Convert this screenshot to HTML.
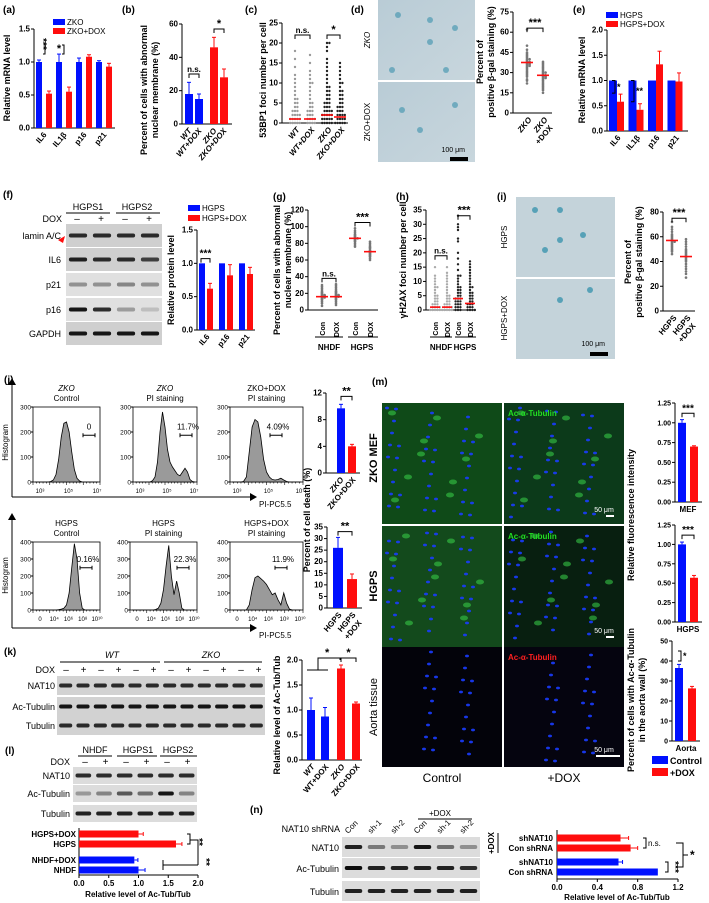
<!DOCTYPE html>
<html><head><meta charset="utf-8"><style>
html,body{margin:0;padding:0;background:#fff;width:709px;height:903px;overflow:hidden}
svg{display:block;font-family:"Liberation Sans",Arial,sans-serif}
</style></head><body>
<svg id="fig" width="709" height="903" viewBox="0 0 709 903" xmlns="http://www.w3.org/2000/svg">
<defs>
<linearGradient id="gbg" x1="0" y1="0" x2="1" y2="1"><stop offset="0" stop-color="#b9ccd6"/><stop offset="1" stop-color="#c8d6dd"/></linearGradient>
</defs>
<g id="static" font-size="9"></g>
</svg>
<script>
// ---------- DATA ----------
const aCats=['IL6','IL1β','p16','p21'];
const aCtrl=[1,1,1,1];
const aDox=[0.52,0.55,1.08,0.93];
const aCtrlErr=[0.03,0.12,0.06,0.02];
const aDoxErr=[0.04,0.07,0.03,0.05];
const bCats=['WT','WT+DOX','ZKO','ZKO+DOX'];
const bVals=[18,15,46,28];
const bErr=[7,3,6,5];
const cCats=['WT','WT+DOX','ZKO','ZKO+DOX'];
const cWT=[0,0,0,0,0,1,1,1,1,1,2,2,2,2,3,3,3,4,4,5,5,6,6,7,8,9,10,11,12,14,16,18];
const cWTDox=[0,0,0,0,1,1,1,1,2,2,2,3,3,3,4,4,5,5,6,7,8,9,10,10,11,12,13,15,17];
const cZKO=[0,0,0,0,0,1,1,1,1,1,2,2,2,2,2,3,3,3,3,4,4,4,5,5,5,6,6,7,7,8,8,9,9,10,11,12,13,14,15,16,18,19,20,20];
const cZKODox=[0,0,0,0,0,1,1,1,1,2,2,2,2,3,3,3,4,4,4,5,5,6,6,7,7,8,8,9,10,10,11,12,13,14,15];
const cMeans=[1,1,2,1.5];
const dCats=['ZKO','ZKO+DOX'];
const dZKO=[62,50,47,45,44,43,42,41,40,40,39,38,38,37,37,36,36,35,35,34,33,32,31,30,29,28,27,25,24,22];
const dZKODox=[38,37,36,35,34,33,32,31,30,30,29,28,28,27,27,26,26,25,24,23,22,21,20,19,18,17,15];
const dMeans=[37.5,28];
const eCats=['IL6','IL1β','p16','p21'];
const eCtrl=[1,1,1,1];
const eDox=[0.58,0.42,1.32,0.98];
const eDoxErr=[0.15,0.12,0.26,0.17];
const fCats=['IL6','p16','p21'];
const fCtrl=[1,1,1];
const fDox=[0.62,0.82,0.84];
const fDoxErr=[0.08,0.16,0.1];
const gCon1=[5,8,10,12,13,14,15,15,16,16,17,17,18,18,19,20,21,22,24,26,28,30];
const gDox1=[6,8,10,12,13,14,15,16,16,17,17,18,18,19,20,21,22,23,25,27,29,31];
const gCon2=[98,95,93,91,90,89,88,87,86,86,85,84,83,82,80,78,76];
const gDox2=[82,80,78,76,75,74,72,71,70,69,68,67,66,65,64,62,60];
const gMeans=[16,16,86,70];
const hCols=[
 [0,0,0,0,0,1,1,1,1,2,2,2,3,3,4,4,5,5,6,7,8,8,9,10,11,12,15],
 [0,0,0,0,0,1,1,1,1,2,2,2,3,3,4,4,5,5,6,7,8,9,10,11,12,13,15],
 [0,0,0,1,1,1,2,2,2,3,3,3,4,4,4,5,5,6,6,7,7,8,8,9,10,11,12,12,14,16,18,20,24,25,28,29,30,33],
 [0,0,0,0,1,1,1,2,2,2,3,3,4,4,5,5,6,6,7,8,8,9,10,11,12,13,14,15,16,17]];
const hMeans=[1,1,4,2.3];
const iHGPS=[72,68,66,64,62,61,60,59,58,57,56,56,55,54,53,52,51,50,49,48,46];
const iHGPSDox=[58,56,54,52,50,49,48,47,46,45,44,43,42,41,40,38,36,34,32,30,27];
const iMeans=[57,44];
const jTopVals=[9.7,4.0];
const jTopErr=[0.6,0.3];
const jBotVals=[26,12.5];
const jBotErr=[4.5,2.2];
const histZKOctrl=[0,0,0,0,0,0,2,8,30,90,180,235,240,200,120,50,15,4,0,0,0,0,0,0,0];
const histZKOpi=[0,0,0,0,0,0,0,5,20,80,200,280,220,130,80,60,45,30,25,40,55,40,10,2,0];
const histZKOdox=[0,0,0,0,2,20,120,220,250,240,180,90,40,20,10,8,10,15,8,2,0,0,0,0,0];
const histHctrl=[0,0,0,0,0,0,0,0,0,2,5,10,30,100,250,390,300,100,10,0,0,0,0,0,0];
const histHpi=[0,0,0,0,0,0,0,0,0,3,10,40,120,260,380,200,90,170,100,10,0,0,0,0,0];
const histHdox=[0,0,0,0,0,0,30,120,190,200,185,170,150,120,90,100,60,30,100,40,5,0,0,0,0];
const kCats=['WT','WT+DOX','ZKO','ZKO+DOX'];
const kVals=[1.0,0.87,1.83,1.13];
const kErr=[0.24,0.18,0.07,0.03];
const lCats=['HGPS+DOX','HGPS','NHDF+DOX','NHDF'];
const lVals=[1.0,1.63,0.93,1.0];
const lErr=[0.08,0.1,0.06,0.11];
const mMEF=[1.0,0.7];
const mMEFErr=[0.04,0.01];
const mHGPS=[1.0,0.57];
const mHGPSErr=[0.03,0.03];
const mAorta=[36.5,26.3];
const mAortaErr=[1.8,1.0];
const nCats=['shNAT10','Con shRNA','shNAT10','Con shRNA'];
const nVals=[0.63,0.73,0.61,1.0];
const nErr=[0.08,0.07,0.04,0];

// ---------- HELPERS ----------
const NS='http://www.w3.org/2000/svg';
const svg=document.getElementById('fig');
const BLUE='#0010ff', RED='#ff0d0d';
function el(tag,a,p){const e=document.createElementNS(NS,tag);for(const k in a)e.setAttribute(k,a[k]);(p||svg).appendChild(e);return e;}
function tx(x,y,s,a,p){const t=el('text',Object.assign({x:x,y:y,'font-size':8},a||{}),p);t.textContent=s;return t;}
function lin(vmin,vmax,p0,p1){return v=>p0+(v-vmin)/(vmax-vmin)*(p1-p0);}
function yAxis(g,x,yb,yt,vmax,ticks,fmt,fs){
  const ys=lin(0,vmax,yb,yt);
  el('line',{x1:x,y1:yb,x2:x,y2:yt,stroke:'#000','stroke-width':1},g);
  ticks.forEach(t=>{const y=ys(t);el('line',{x1:x-3,y1:y,x2:x,y2:y,stroke:'#000'},g);
    tx(x-4,y+2.5,fmt?fmt(t):String(t),{'text-anchor':'end','font-size':fs||8,'font-weight':'bold'},g);});
  return ys;
}
function xLine(g,x0,x1,y){el('line',{x1:x0,y1:y,x2:x1,y2:y,stroke:'#000'},g);}
function rotLabel(g,x,y,s,fs,ital){const t=tx(x,y,s,{'text-anchor':'end','font-size':fs||8,'font-weight':'bold',transform:`rotate(-50 ${x} ${y})`,'font-style':ital?'italic':'normal'},g);return t;}
function vTitle(g,x,y,s,fs){return tx(x,y,s,{'text-anchor':'middle','font-size':fs||9,'font-weight':'bold',transform:`rotate(-90 ${x} ${y})`},g);}
function errV(g,x,y0,y1,c){el('line',{x1:x,y1:y0,x2:x,y2:y1,stroke:c,'stroke-width':1},g);el('line',{x1:x-2,y1:y1,x2:x+2,y2:y1,stroke:c},g);}
function bracket(g,x0,x1,y,lab,fs){el('path',{d:`M${x0} ${y+4}V${y}H${x1}V${y+4}`,fill:'none',stroke:'#000'},g);tx((x0+x1)/2,y-2,lab,{'text-anchor':'middle','font-size':fs||10,'font-weight':'bold'},g);}
function vBracket(g,x,y0,y1,lab){el('path',{d:`M${x-3} ${y0}H${x}V${y1}H${x-3}`,fill:'none',stroke:'#000'},g);tx(x+2,(y0+y1)/2+3,lab,{'font-size':9,'font-weight':'bold'},g);}
function scatterCol(g,cx,vals,ys,col,r,spread){
  const seen={};
  vals.forEach((v,i)=>{const n=(seen[v]=(seen[v]||0)+1)-1;
    let off=(n%2?1:-1)*Math.ceil(n/2)*(r*2);off=Math.max(-spread,Math.min(spread,off));
    const c=el('circle',{cx:cx+off,cy:ys(v),r:r,fill:col},g);
    
    });
}
function meanMark(g,cx,v,ys,w){el('line',{x1:cx-w,y1:ys(v),x2:cx+w,y2:ys(v),stroke:RED,'stroke-width':1.6},g);}
function panelLabel(x,y,s){const t=tx(x,y,s,{'font-size':10,'font-weight':'bold'});}
function grp(name){const g=el('g',{});return g;}
function bar(g,x,w,ys,v,c,err){const r=el('rect',{x:x,y:ys(v),width:w,height:ys(0)-ys(v),fill:c},g);
  
  
  if(err)errV(g,x+w/2,ys(v),ys(v+err),c);return r;}
function legend(g,x,y,c,s,fs){el('rect',{x:x,y:y-6,width:12,height:6,fill:c},g);tx(x+14,y,s,{'font-size':fs||8},g);}

// ---------- (a) ----------
panelLabel(3,13,'(a)');
(function(){const g=grp('panel-a-chart');
 const ys=yAxis(g,34,128,29,1.5,[0,0.5,1,1.5],t=>t.toFixed(1));
 xLine(g,34,115,128);
 aCats.forEach((c,i)=>{bar(g,36+20*i,6,ys,aCtrl[i],BLUE,aCtrlErr[i]);bar(g,46+20*i,6,ys,aDox[i],RED,aDoxErr[i]);
   rotLabel(g,47+20*i,135,c,8);});
 vTitle(g,10,78,'Relative mRNA level',9);
 legend(g,53,25,BLUE,'ZKO',8);legend(g,53,34,RED,'ZKO+DOX',8);
 el('path',{d:'M43 43H45V54H43',fill:'none',stroke:'#000'},g);
 tx(40,44,'***',{'font-size':10,'font-weight':'bold',transform:'rotate(90 40 44)','text-anchor':'middle'},g);
 el('path',{d:'M62 45H64V54H62',fill:'none',stroke:'#000'},g);
 tx(59,52,'*',{'font-size':11,'font-weight':'bold','text-anchor':'middle'},g);
})();
// ---------- (b) ----------
panelLabel(122,13,'(b)');
(function(){const g=grp('panel-b-chart');
 const ys=yAxis(g,182,124,24,60,[0,20,40,60]);
 xLine(g,182,232,124);
 const xs=[185,195,210,220],cols=[BLUE,BLUE,RED,RED];
 bCats.forEach((c,i)=>{bar(g,xs[i],8,ys,bVals[i],cols[i],bErr[i]);rotLabel(g,xs[i]+7,131,c,8,true);});
 vTitle(g,147,90,'Percent of cells with abnormal',9);vTitle(g,158,90,'nuclear membrane (%)',9);
 bracket(g,189,199,ys(30),'n.s.',8);bracket(g,214,224,ys(57),'*',11);
})();
// ---------- (c) ----------
panelLabel(245,13,'(c)');
(function(){const g=grp('panel-c-chart');
 const ys=yAxis(g,282,123,23,25,[0,5,10,15,20,25]);
 xLine(g,282,348,123);
 const xs=[295,310,327,340],cols=['#9a9a9a','#9a9a9a','#222','#222'];
 [cWT,cWTDox,cZKO,cZKODox].forEach((d,i)=>{scatterCol(g,xs[i],d,ys,cols[i],1.2,6);meanMark(g,xs[i],cMeans[i],ys,6);rotLabel(g,xs[i]+5,130,cCats[i],8,true);});
 vTitle(g,266,80,'53BP1 foci number per cell',9);
 bracket(g,295,310,ys(22),'n.s.',8);bracket(g,327,340,ys(22),'*',11);
})();
// ---------- (d) ----------
panelLabel(351,13,'(d)');
(function(){const g=grp('panel-d-images');
 const a=el('rect',{x:378,y:0,width:97,height:80,fill:'url(#gbg)'},g);
 const b=el('rect',{x:378,y:82,width:97,height:80,fill:'url(#gbg)'},g);
 [[398,15],[430,20],[430,42],[455,28],[392,70],[446,70],[402,110],[455,105],[420,130]].forEach(p=>el('circle',{cx:p[0],cy:p[1],r:3,fill:'#4d9ab2',opacity:0.7},g));
 tx(370,40,'ZKO',{'font-size':8,'font-style':'italic',transform:'rotate(-90 370 40)','text-anchor':'middle'},g);
 tx(370,122,'ZKO+DOX',{'font-size':8,transform:'rotate(-90 370 122)','text-anchor':'middle'},g);
 tx(465,152,'100 μm',{'font-size':7,'text-anchor':'end'},g);el('rect',{x:450,y:157,width:18,height:4,fill:'#000'},g);
 const h=grp('panel-d-chart');
 const ys=yAxis(h,513,113,12,75,[0,15,30,45,60,75]);
 xLine(h,513,552,113);
 [dZKO,dZKODox].forEach((d,i)=>{const cx=[527,543][i];scatterCol(h,cx,d,ys,'#777',1.3,6);meanMark(h,cx,dMeans[i],ys,6);});
 rotLabel(h,532,120,'ZKO',8,true);rotLabel(h,548,120,'ZKO',8,true);rotLabel(h,553,128,'+DOX',8);
 vTitle(h,483,62,'Percent of',9);vTitle(h,494,62,'positive β-gal staining (%)',9);
 bracket(h,527,543,ys(63),'***',11);
})();
// ---------- (e) ----------
panelLabel(573,13,'(e)');
(function(){const g=grp('panel-e-chart');
 const ys=yAxis(g,607,131,30,2,[0,0.5,1,1.5,2],t=>t.toFixed(1));
 xLine(g,607,688,131);
 eCats.forEach((c,i)=>{bar(g,609+19.5*i,8,ys,eCtrl[i],BLUE);bar(g,617+19.5*i,7,ys,eDox[i],RED,eDoxErr[i]);rotLabel(g,621+19.5*i,138,c,8);});
 vTitle(g,585,80,'Relative mRNA level',9);
 legend(g,606,18,BLUE,'HGPS',8);legend(g,606,27,RED,'HGPS+DOX',8);
 vBracket(g,615,ys(1),ys(0.75),'*');vBracket(g,634,ys(1),ys(0.58),'**');
})();
// ---------- blot helper ----------
function blot(name,x,y,w,h,n,intens,bg){const g=grp(name);
 el('rect',{x:x,y:y,width:w,height:h,fill:bg||'#d4d4d4'},g);
 const lw=w/n;intens.forEach((v,i)=>{el('rect',{x:x+lw*i+lw*0.12,y:y+h/2-2,width:lw*0.76,height:4,rx:2,fill:'#000',opacity:v},g);});return g;}
// ---------- (f) ----------
panelLabel(3,198,'(f)');
(function(){const g=grp('panel-f-blot');
 tx(88,210,'HGPS1',{'font-size':9,'text-anchor':'middle'},g);tx(137,210,'HGPS2',{'font-size':9,'text-anchor':'middle'},g);
 xLine(g,66,110,213);xLine(g,116,160,213);
 tx(62,222,'DOX',{'font-size':9,'text-anchor':'end'},g);
 ['–','+','–','+'].forEach((s,i)=>tx(77+24*i,222,s,{'font-size':10,'text-anchor':'middle'},g));
 const rows=[['lamin A/C',224],['IL6',248],['p21',273],['p16',298],['GAPDH',322]];
 const ints=[[0.8,0.8,0.8,0.8],[0.85,0.8,0.8,0.7],[0.35,0.35,0.4,0.35],[0.9,0.8,0.3,0.15],[0.9,0.9,0.9,0.9]];
 rows.forEach((r,i)=>{blot('blot-'+r[0].replace(/[^a-z0-9]/gi,'').toLowerCase(),66,r[1],96,23,4,ints[i],i==2||i==3?'#e0e0e0':'#cfcfcf');tx(61,r[1]+15,r[0],{'font-size':9,'text-anchor':'end'},g);});
 el('path',{d:'M58 240l7 -4l-2 7z',fill:RED},g);
 const h=grp('panel-f-chart');
 const ys=yAxis(h,197,330,230,1.5,[0,0.5,1,1.5],t=>t.toFixed(1));
 xLine(h,197,255,330);
 fCats.forEach((c,i)=>{bar(h,199+20*i,6,ys,fCtrl[i],BLUE);bar(h,207+20*i,6,ys,fDox[i],RED,fDoxErr[i]);rotLabel(h,210+20*i,337,c,8);});
 vTitle(h,174,280,'Relative protein level',9);
 legend(h,188,211,BLUE,'HGPS',8);legend(h,188,221,RED,'HGPS+DOX',8);
 bracket(h,201,210,ys(1.07),'***',10);
})();
// ---------- (g) ----------
panelLabel(273,200,'(g)');
(function(){const g=grp('panel-g-chart');
 const ys=yAxis(g,308,310,210,120,[0,20,40,60,80,100,120]);
 xLine(g,308,378,310);
 const xs=[322,336,355,370];
 [gCon1,gDox1,gCon2,gDox2].forEach((d,i)=>{scatterCol(g,xs[i],d,ys,'#777',1.3,5);meanMark(g,xs[i],gMeans[i],ys,6);
  tx(xs[i]+3,322,i%2?'DOX':'Con',{'font-size':7,'font-weight':'bold',transform:`rotate(-90 ${xs[i]+3} 322)`,'text-anchor':'end'},g);});
 xLine(g,315,343,337);xLine(g,348,378,337);
 tx(329,350,'NHDF',{'font-size':8,'font-weight':'bold','text-anchor':'middle'},g);tx(362,350,'HGPS',{'font-size':8,'font-weight':'bold','text-anchor':'middle'},g);
 vTitle(g,280,270,'Percent of cells with abnormal',9);vTitle(g,291,260,'nuclear membrane (%)',9);
 bracket(g,322,336,ys(38),'n.s.',8);bracket(g,355,370,ys(105),'***',11);
})();
// ---------- (h) ----------
panelLabel(396,200,'(h)');
(function(){const g=grp('panel-h-chart');
 const ys=yAxis(g,426,310,210,35,[0,5,10,15,20,25,30,35]);
 xLine(g,426,476,310);
 const xs=[435,447,458,470],cols=['#aaa','#aaa','#222','#222'];
 hCols.forEach((d,i)=>{scatterCol(g,xs[i],d,ys,cols[i],1.2,5);meanMark(g,xs[i],hMeans[i],ys,5);
  tx(xs[i]+3,322,i%2?'DOX':'Con',{'font-size':7,'font-weight':'bold',transform:`rotate(-90 ${xs[i]+3} 322)`,'text-anchor':'end'},g);});
 xLine(g,430,452,337);xLine(g,455,476,337);
 tx(441,350,'NHDF',{'font-size':8,'font-weight':'bold','text-anchor':'middle'},g);tx(465,350,'HGPS',{'font-size':8,'font-weight':'bold','text-anchor':'middle'},g);
 vTitle(g,406,260,'γH2AX foci number per cell',9);
 bracket(g,435,447,ys(19),'n.s.',8);bracket(g,458,470,ys(33),'***',11);
})();
// ---------- (i) ----------
panelLabel(497,200,'(i)');
(function(){const g=grp('panel-i-images');
 const a=el('rect',{x:516,y:197,width:99,height:80,fill:'#c4d3da'},g);
 const b=el('rect',{x:516,y:279,width:99,height:80,fill:'#c4d3da'},g);
 [[535,210],[560,210],[560,240],[583,235],[545,250],[560,300],[590,290]].forEach(p=>el('circle',{cx:p[0],cy:p[1],r:3,fill:'#3c95ae',opacity:0.8},g));
 tx(507,237,'HGPS',{'font-size':8,transform:'rotate(-90 507 237)','text-anchor':'middle'},g);
 tx(507,318,'HGPS+DOX',{'font-size':8,transform:'rotate(-90 507 318)','text-anchor':'middle'},g);
 tx(605,346,'100 μm',{'font-size':7,'text-anchor':'end'},g);el('rect',{x:590,y:352,width:18,height:4,fill:'#000'},g);
 const h=grp('panel-i-chart');
 const ys=yAxis(h,663,311,212,80,[0,20,40,60,80]);
 xLine(h,663,695,311);
 [iHGPS,iHGPSDox].forEach((d,i)=>{const cx=[672,686][i];scatterCol(h,cx,d,ys,'#777',1.3,5);meanMark(h,cx,iMeans[i],ys,6);});
 rotLabel(h,677,318,'HGPS',8);rotLabel(h,691,318,'HGPS',8);rotLabel(h,696,326,'+DOX',8);
 vTitle(h,631,262,'Percent of',9);vTitle(h,642,262,'positive β-gal staining (%)',9);
 bracket(h,672,686,ys(75),'***',11);
})();
// ---------- (j) histograms ----------
panelLabel(4,383,'(j)');
function hist(name,x0,x1,yt,yb,ymax,vals,ticks,xt,t1,t2,t1i,pct,px){const g=grp(name);
 el('rect',{x:x0,y:yt,width:x1-x0,height:yb-yt,fill:'#fff',stroke:'#000','stroke-width':0.8},g);
 const xs=lin(0,vals.length-1,x0+2,x1-2),ys=lin(0,ymax,yb,yt);
 let d=`M${xs(0)} ${yb}`;vals.forEach((v,i)=>d+=`L${xs(i)} ${ys(v)}`);d+=`L${xs(vals.length-1)} ${yb}Z`;
 const p=el('path',{d:d,fill:'#9a9a9a',stroke:'#000','stroke-width':0.8},g);
 
 
 ticks.forEach(t=>{const y=ys(t);el('line',{x1:x0-2,y1:y,x2:x0,y2:y,stroke:'#000'},g);tx(x0-2,y+2.5,String(t),{'font-size':6.5,'text-anchor':'end'},g);});
 for(let i=0;i<=20;i++){el('line',{x1:x0+i*(x1-x0)/20,y1:yb,x2:x0+i*(x1-x0)/20,y2:yb+(i%5?1.5:3),stroke:'#000','stroke-width':0.6},g);}
 xt.forEach((s,i)=>tx(x0+7+i*(x1-x0-10)/(xt.length-1),yb+11,s,{'font-size':6,'text-anchor':'middle'},g));
 tx((x0+x1)/2,yt-16,t1,{'font-size':8,'text-anchor':'middle','font-style':t1i?'italic':'normal'},g);
 tx((x0+x1)/2,yt-6,t2,{'font-size':8,'text-anchor':'middle'},g);
 el('path',{d:`M${px} ${yt+(yb-yt)*0.35}v4M${px} ${yt+(yb-yt)*0.35+2}h12M${px+12} ${yt+(yb-yt)*0.35}v4`,stroke:'#000',fill:'none'},g);
 tx(px+6+(pct.length>3?2:0),yt+(yb-yt)*0.35-4,pct,{'font-size':8,'text-anchor':'middle'},g);
}
const xtTop=['10³','10⁵','10⁷'],xtBot=['0','10⁴','10⁶','10⁸','10¹⁰'];
hist('hist-zko-control',33,100,407,482,300,histZKOctrl,[0,100,200,300],xtTop,'ZKO','Control',true,'0',83);
hist('hist-zko-pi',133,197,407,482,300,histZKOpi,[0,100,200,300],xtTop,'ZKO','PI staining',true,'11.7%',180);
hist('hist-zko-dox-pi',230,303,407,482,300,histZKOdox,[0,100,200,300],xtTop,'ZKO+DOX','PI staining',false,'4.09%',270);
hist('hist-hgps-control',33,100,542,610,400,histHctrl,[0,100,200,300,400],xtBot,'HGPS','Control',false,'0.16%',80);
hist('hist-hgps-pi',130,197,542,610,400,histHpi,[0,100,200,300,400],xtBot,'HGPS','PI staining',false,'22.3%',177);
hist('hist-hgps-dox-pi',230,303,542,610,400,histHdox,[0,100,200,300,400],xtBot,'HGPS+DOX','PI staining',false,'11.9%',275);
(function(){const g=grp('panel-j-axes');
 [[497,378],[628,513]].forEach(r=>{el('path',{d:`M12 ${r[0]}H250`,stroke:'#000',fill:'none'},g);el('path',{d:`M250 ${r[0]-4}l7 4l-7 4z`,fill:'#000'},g);
  el('path',{d:`M12 ${r[0]}V${r[1]+6}`,stroke:'#000',fill:'none'},g);el('path',{d:`M8 ${r[1]+7}l4 -7l4 7z`,fill:'#000'},g);
  tx(259,r[0]+10,'PI-PC5.5',{'font-size':8},g);tx(8,(r[0]+r[1])/2+5,'Histogram',{'font-size':8,'text-anchor':'middle',transform:`rotate(-90 8 ${(r[0]+r[1])/2+5})`},g);});
 const ys=yAxis(g,326,473,393,12,[0,4,8,12]);xLine(g,326,360,473);
 jTopVals.forEach((v,i)=>bar(g,[337,348][i],8,ys,v,[BLUE,RED][i],jTopErr[i]));
 rotLabel(g,344,480,'ZKO',8,true);rotLabel(g,356,480,'ZKO+DOX',8,false);
 bracket(g,341,352,ys(11.5),'**',11);
 const y2=yAxis(g,327,608,527,35,[0,5,10,15,20,25,30,35]);xLine(g,327,362,608);
 jBotVals.forEach((v,i)=>bar(g,[333,347][i],10,y2,v,[BLUE,RED][i],jBotErr[i]));
 rotLabel(g,342,615,'HGPS',8);rotLabel(g,356,615,'HGPS',8);rotLabel(g,362,623,'+DOX',8);
 bracket(g,338,352,y2(33),'**',11);
 vTitle(g,310,520,'Percent of cell death (%)',9);
})();
// ---------- (m) ----------
panelLabel(372,385,'(m)');
(function(){const g=grp('panel-m-images');
 const cells=[[382,403,'#0f4a18'],[504,403,'#0c3a1a'],[382,526,'#134a1c'],[504,526,'#081f10'],[382,647,'#03030a'],[504,647,'#05040f']];
 cells.forEach((c,i)=>{const r=el('rect',{x:c[0],y:c[1],width:120,height:i>3?120:121,fill:c[2]},g);
  for(let k=0;k<40;k++){const px=c[0]+5+((k*37)%110),py=c[1]+5+((k*53+i*11)%110);el('ellipse',{cx:px,cy:py,rx:2,ry:1.4,fill:'#1a3cff',opacity:i>3&&(k%3==0)?0:0.9},g);}
  if(i<4)for(let k=0;k<10;k++){const px=c[0]+10+((k*29+i*7)%100),py=c[1]+10+((k*41)%100);el('ellipse',{cx:px,cy:py,rx:4,ry:2.5,fill:'#3bd64a',opacity:0.55},g);}});
 ['Ac-α-Tubulin','Ac-α-Tubulin'].forEach((s,i)=>tx(508,[416,539][i],s,{'font-size':8,'font-weight':'bold',fill:'#22dd22'},g));
 tx(508,660,'Ac-α-Tubulin',{'font-size':8,'font-weight':'bold',fill:'#ff2020'},g);
 [[518],[639],[758]].forEach((y,i)=>{tx(604,y[0]-6,'50 μm',{'font-size':7,fill:'#fff','text-anchor':'middle'},g);el('rect',{x:i<2?606:596,y:y[0]-3,width:i<2?8:24,height:2,fill:'#fff'},g);});
 tx(382,463,'ZKO MEF',{'font-size':11,'font-weight':'bold','text-anchor':'middle',transform:'rotate(-90 377 463)'},g);
 tx(377,586,'HGPS',{'font-size':11,'font-weight':'bold','text-anchor':'middle',transform:'rotate(-90 377 586)'},g);
 tx(377,707,'Aorta tissue',{'font-size':11,'text-anchor':'middle',transform:'rotate(-90 377 707)'},g);
 tx(442,782,'Control',{'font-size':12,'text-anchor':'middle'},g);tx(564,782,'+DOX',{'font-size':12,'text-anchor':'middle'},g);
 const h=grp('panel-m-charts');
 const f2=t=>t.toFixed(2);
 let ys=yAxis(h,675,502,403,1.25,[0,0.25,0.5,0.75,1,1.25],f2,7);xLine(h,675,702,502);
 mMEF.forEach((v,i)=>bar(h,[678,690][i],8,ys,v,[BLUE,RED][i],mMEFErr[i]));
 tx(688,512,'MEF',{'font-size':8,'font-weight':'bold','text-anchor':'middle'},h);bracket(h,682,694,ys(1.12),'***',10);
 ys=yAxis(h,675,622,525,1.25,[0,0.25,0.5,0.75,1,1.25],f2,7);xLine(h,675,702,622);
 mHGPS.forEach((v,i)=>bar(h,[678,690][i],8,ys,v,[BLUE,RED][i],mHGPSErr[i]));
 tx(688,632,'HGPS',{'font-size':8,'font-weight':'bold','text-anchor':'middle'},h);bracket(h,682,694,ys(1.12),'***',10);
 vTitle(h,634,515,'Relative fluorescence intensity',9);
 ys=yAxis(h,672,741,641,50,[0,10,20,30,40,50],null,7);xLine(h,672,700,741);
 mAorta.forEach((v,i)=>bar(h,[675,688][i],8,ys,v,[BLUE,RED][i],mAortaErr[i]));
 tx(686,751,'Aorta',{'font-size':8,'font-weight':'bold','text-anchor':'middle'},h);vBracket(h,681,ys(45),ys(40),'*');
 vTitle(h,634,700,'Percent of cells with Ac-α-Tubulin',9);vTitle(h,645,700,'in the aorta wall (%)',9);
 el('rect',{x:652,y:756,width:16,height:8,fill:BLUE},h);tx(670,764,'Control',{'font-size':9,'font-weight':'bold'},h);
 el('rect',{x:652,y:768,width:16,height:8,fill:RED},h);tx(670,776,'+DOX',{'font-size':9,'font-weight':'bold'},h);
})();
// ---------- (k) ----------
panelLabel(4,655,'(k)');
(function(){const g=grp('panel-k-blot');
 tx(112,658,'WT',{'font-size':9,'font-style':'italic','text-anchor':'middle'},g);tx(211,658,'ZKO',{'font-size':9,'font-style':'italic','text-anchor':'middle'},g);
 xLine(g,60,160,662);xLine(g,164,262,662);
 tx(55,673,'DOX',{'font-size':9,'text-anchor':'end'},g);
 for(let i=0;i<12;i++)tx(66+17.5*i,673,i%2?'+':'–',{'font-size':10,'text-anchor':'middle'},g);
 [['NAT10',676],['Ac-Tubulin',697],['Tubulin',716]].forEach((r,i)=>{blot('blot-k-'+r[0].toLowerCase(),57,r[1],208,19,12,new Array(12).fill(i==1?0.9:0.8),'#d2d2d2');tx(55,r[1]+13,r[0],{'font-size':9,'text-anchor':'end'},g);});
 const h=grp('panel-k-chart');
 const ys=yAxis(h,302,760,660,2,[0,0.5,1,1.5,2],t=>t.toFixed(1));xLine(h,302,362,760);
 const xs=[307,321,337,352],cols=[BLUE,BLUE,RED,RED];
 kCats.forEach((c,i)=>{bar(h,xs[i],8,ys,kVals[i],cols[i],kErr[i]);rotLabel(h,xs[i]+8,767,c,8,c!=='ZKO+DOX'&&c!=='WT+DOX');});
 vTitle(h,280,715,'Relative level of Ac-Tub/Tub',9);
 el('path',{d:'M307 670H328M318 670V658H340V660M340 660V658M339 658H342',stroke:'#000',fill:'none'},h);
 tx(325,656,'*',{'font-size':11,'font-weight':'bold'},h);bracket(h,341,356,658,'*',11);
})();
// ---------- (l) ----------
panelLabel(5,754,'(l)');
(function(){const g=grp('panel-l-blot');
 tx(95,753,'NHDF',{'font-size':9,'text-anchor':'middle'},g);tx(138,753,'HGPS1',{'font-size':9,'text-anchor':'middle'},g);tx(178,753,'HGPS2',{'font-size':9,'text-anchor':'middle'},g);
 xLine(g,78,112,756);xLine(g,117,157,756);xLine(g,160,197,756);
 tx(70,765,'DOX',{'font-size':9,'text-anchor':'end'},g);
 for(let i=0;i<6;i++)tx(85+20.5*i,765,i%2?'+':'–',{'font-size':10,'text-anchor':'middle'},g);
 [['NAT10',767,[0.8,0.8,0.8,0.8,0.8,0.8]],['Ac-Tubulin',785,[0.3,0.4,0.6,0.5,0.9,0.4]],['Tubulin',805,[0.85,0.85,0.85,0.85,0.85,0.85]]].forEach(r=>{blot('blot-l-'+r[0].toLowerCase(),73,r[1],124,17,6,r[2],'#dcdcdc');tx(70,r[1]+12,r[0],{'font-size':9,'text-anchor':'end'},g);});
 const h=grp('panel-l-chart');
 const xs=lin(0,2,79,198);
 el('line',{x1:79,y1:828,x2:79,y2:875,stroke:'#000'},h);xLine(h,79,198,875);
 [0,0.5,1,1.5,2].forEach(t=>{el('line',{x1:xs(t),y1:875,x2:xs(t),y2:878,stroke:'#000'},h);tx(xs(t),886,t.toFixed(1),{'font-size':8,'font-weight':'bold','text-anchor':'middle'},h);});
 const yc=[834,844,860,870],cols=[RED,RED,BLUE,BLUE];
 lCats.forEach((c,i)=>{const r=el('rect',{x:79,y:yc[i]-3.5,width:xs(lVals[i])-79,height:7,fill:cols[i]},h);
  
  
  const ex=xs(lVals[i]+lErr[i]);el('path',{d:`M${xs(lVals[i])} ${yc[i]}H${ex}M${ex} ${yc[i]-2}V${yc[i]+2}`,stroke:cols[i]},h);
  tx(76,yc[i]+3,c,{'font-size':8,'font-weight':'bold','text-anchor':'end'},h);});
 tx(138,897,'Relative level of Ac-Tub/Tub',{'font-size':8,'font-weight':'bold','text-anchor':'middle'},h);
 el('path',{d:'M187 834H190V844H187',stroke:'#000',fill:'none'},h);
 el('path',{d:'M163 860V870M163 865H198M190 840H198V865',stroke:'#000',fill:'none'},h);
 tx(196,842,'**',{'font-size':10,'font-weight':'bold',transform:'rotate(90 196 842)','text-anchor':'middle'},h);
 tx(203,862,'**',{'font-size':10,'font-weight':'bold',transform:'rotate(90 203 862)','text-anchor':'middle'},h);
})();
// ---------- (n) ----------
panelLabel(250,813,'(n)');
(function(){const g=grp('panel-n-blot');
 tx(340,832,'NAT10 shRNA',{'font-size':9,'text-anchor':'end'},g);
 ['Con','sh-1','sh-2','Con','sh-1','sh-2'].forEach((s,i)=>tx(348+23*i,834,s,{'font-size':8,transform:`rotate(-45 ${348+23*i} 834)`},g));
 tx(440,816,'+DOX',{'font-size':8,'text-anchor':'middle'},g);xLine(g,418,472,819);
 [['NAT10',837,[0.85,0.45,0.35,0.9,0.5,0.35]],['Ac-Tubulin',858,[0.95,0.85,0.85,0.85,0.85,0.8]],['Tubulin',881,[0.85,0.85,0.85,0.85,0.85,0.85]]].forEach(r=>{blot('blot-n-'+r[0].toLowerCase(),342,r[1],138,20,6,r[2],'#dcdcdc');tx(339,r[1]+14,r[0],{'font-size':9,'text-anchor':'end'},g);});
 const h=grp('panel-n-chart');
 const xs=lin(0,1.2,557,678);
 el('line',{x1:557,y1:830,x2:557,y2:879,stroke:'#000'},h);xLine(h,557,678,879);
 [0,0.4,0.8,1.2].forEach(t=>{el('line',{x1:xs(t),y1:879,x2:xs(t),y2:882,stroke:'#000'},h);tx(xs(t),890,t.toFixed(1),{'font-size':8,'font-weight':'bold','text-anchor':'middle'},h);});
 const yc=[838,848,862,872],cols=[RED,RED,BLUE,BLUE];
 nCats.forEach((c,i)=>{const r=el('rect',{x:557,y:yc[i]-3.5,width:xs(nVals[i])-557,height:7,fill:cols[i]},h);
  
  
  if(nErr[i]){const ex=xs(nVals[i]+nErr[i]);el('path',{d:`M${xs(nVals[i])} ${yc[i]}H${ex}M${ex} ${yc[i]-2}V${yc[i]+2}`,stroke:cols[i]},h);}
  tx(553,yc[i]+3,c,{'font-size':8,'font-weight':'bold','text-anchor':'end'},h);});
 tx(617,900,'Relative level of Ac-Tub/Tub',{'font-size':8,'font-weight':'bold','text-anchor':'middle'},h);
 tx(494,843,'+DOX',{'font-size':8,'font-weight':'bold','text-anchor':'middle',transform:'rotate(-90 494 843)'},h);
 el('line',{x1:498,y1:833,x2:498,y2:853,stroke:'#000'},h);
 el('path',{d:'M643 838H646V848H643',stroke:'#000',fill:'none'},h);tx(648,846,'n.s.',{'font-size':8},h);
 el('path',{d:'M665 862H668V872H665',stroke:'#000',fill:'none'},h);
 tx(672,867,'***',{'font-size':10,'font-weight':'bold',transform:'rotate(90 672 867)','text-anchor':'middle'},h);
 el('path',{d:'M676 843H683V867H676M683 855H688',stroke:'#000',fill:'none'},h);tx(690,859,'*',{'font-size':12,'font-weight':'bold'},h);
})();
</script>
</body></html>
